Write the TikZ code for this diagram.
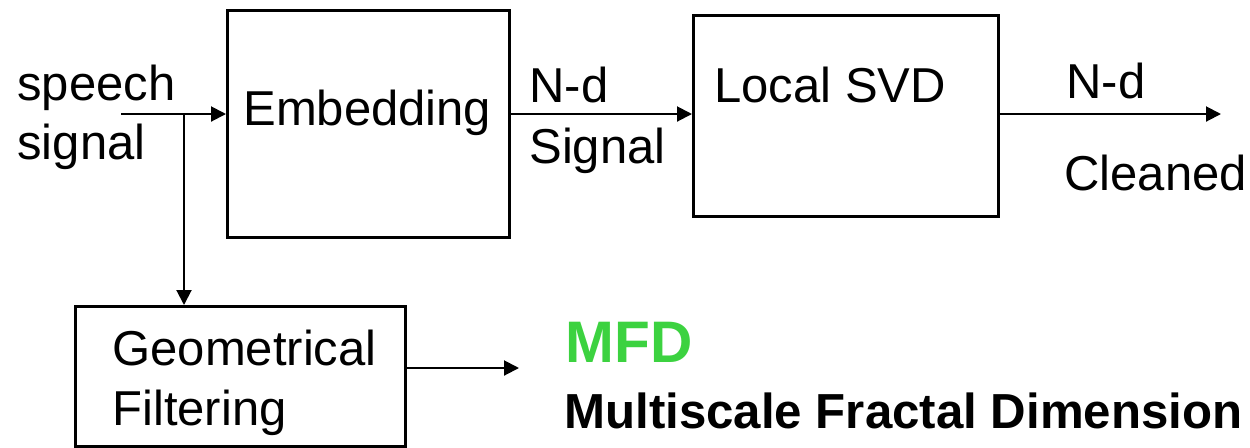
\documentclass[tikz,border=0pt]{standalone}
\usepackage{fontspec}
\setmainfont{Liberation Sans}
\usetikzlibrary{arrows.meta}
\definecolor{mfdgreen}{RGB}{60,210,64}
\tikzset{
  blk/.style={draw, line width=1.3pt, inner sep=0pt, anchor=north west},
  lbl/.style={inner sep=0pt, anchor=base west, font=\fontsize{24.5pt}{29pt}\selectfont},
  arr/.style={line width=1pt, -{Triangle[length=7.5pt,width=7.5pt]}},
}
\begin{document}
\begin{tikzpicture}[x=0.5pt,y=-0.5pt]
\useasboundingbox (0,0) rectangle (1250,447);
% boxes
\node[blk, minimum width=141pt, minimum height=113.5pt] (emb) at (226,9) {};
\node[blk, minimum width=152.5pt, minimum height=100.5pt] (svd) at (692,14) {};
\node[blk, minimum width=165pt, minimum height=70pt] (geo) at (74,305) {};
% texts
\node[lbl] (t1) at (17,100) {speech};
\node[lbl] (t2) at (17,159) {signal};
\node[lbl] (t3) at (243,125) {Embedding};
\node[lbl] (t4) at (529,102) {N-d};
\node[lbl] (t5) at (529,163) {Signal};
\node[lbl] (t6) at (714,102) {Local SVD};
\node[lbl] (t7) at (1066,98) {N-d};
\node[lbl] (t8) at (1064,190) {Cleaned};
\node[lbl] (t9) at (112,365) {Geometrical};
\node[lbl] (t10) at (112,425) {Filtering};
\node[lbl, font=\fontsize{29.3pt}{34pt}\selectfont\bfseries, text=mfdgreen] (t11) at (565,362) {MFD};
\node[lbl, font=\fontsize{24.6pt}{29pt}\selectfont\bfseries] (t12) at (564,428) {Multiscale Fractal Dimension};
% connectors
\coordinate (sin) at (121,114);
\coordinate (branch) at (184,115);
\coordinate (out) at (1221,114);
\coordinate (gout) at (519,368);
\draw[arr] (sin) -- (sin -| emb.west);
\draw[arr] (branch) -- (branch |- geo.north);
\draw[arr] (sin -| emb.east) -- (sin -| svd.west);
\draw[arr] (sin -| svd.east) -- (out);
\draw[arr] (gout -| geo.east) -- (gout);
\end{tikzpicture}
\end{document}
